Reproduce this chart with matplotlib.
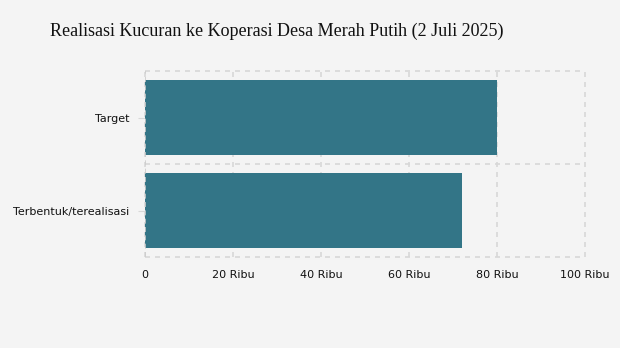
import matplotlib
matplotlib.use("Agg")
import matplotlib.pyplot as plt
from matplotlib.ticker import FixedLocator

categories = ["Terbentuk/terealisasi", "Target"]
values = [72000, 80000]
xticks = [0, 20000, 40000, 60000, 80000, 100000]
xticklabels = ["0", "20 Ribu", "40 Ribu", "60 Ribu", "80 Ribu", "100 Ribu"]
title = "Realisasi Kucuran ke Koperasi Desa Merah Putih (2 Juli 2025)"

bg = "#f4f4f4"
fig = plt.figure(figsize=(6.2, 3.48), dpi=100, facecolor=bg)
ax = fig.add_axes([145/620, 1-257/348, 440/620, 186/348], facecolor=bg)

ax.barh(range(len(categories)), values, height=0.8, color="#337587", zorder=3)
ax.set_xlim(0, 100000)
ax.set_ylim(-0.5, 1.5)
ax.set_yticks(range(len(categories)))
ax.set_yticklabels(categories, fontsize=8, color="#111111")
ax.set_xticks(xticks)
ax.set_xticklabels(xticklabels, fontsize=8, color="#111111")

ax.yaxis.set_minor_locator(FixedLocator([-0.5, 0.5, 1.5]))
ax.grid(True, axis="x", which="major", color="#d8d8d8", linestyle=(0, (3, 3)), linewidth=1.2, zorder=0)
ax.grid(True, axis="y", which="minor", color="#d8d8d8", linestyle=(0, (3, 3)), linewidth=1.2, zorder=0)
for ln in ax.get_xgridlines() + ax.yaxis.get_minorticklines():
    ln.set_clip_on(False)
for t in ax.yaxis.get_minor_ticks():
    t.gridline.set_clip_on(False)
for t in ax.xaxis.get_major_ticks():
    t.gridline.set_clip_on(False)
ax.tick_params(axis="y", which="minor", length=0)
ax.tick_params(axis="y", which="major", length=5, color="#d8d8d8", pad=6)
ax.tick_params(axis="x", which="major", length=0, pad=9)
for s in ax.spines.values():
    s.set_visible(False)
ax.axvline(0, color="#cccccc", linestyle=(0, (3, 2)), linewidth=1.2, zorder=4)

fig.text(50/620, 1-31/348, title, fontsize=13, family="Liberation Serif", color="#111111", va="center", ha="left")

fig.savefig("out.png", dpi=100, facecolor=bg)
